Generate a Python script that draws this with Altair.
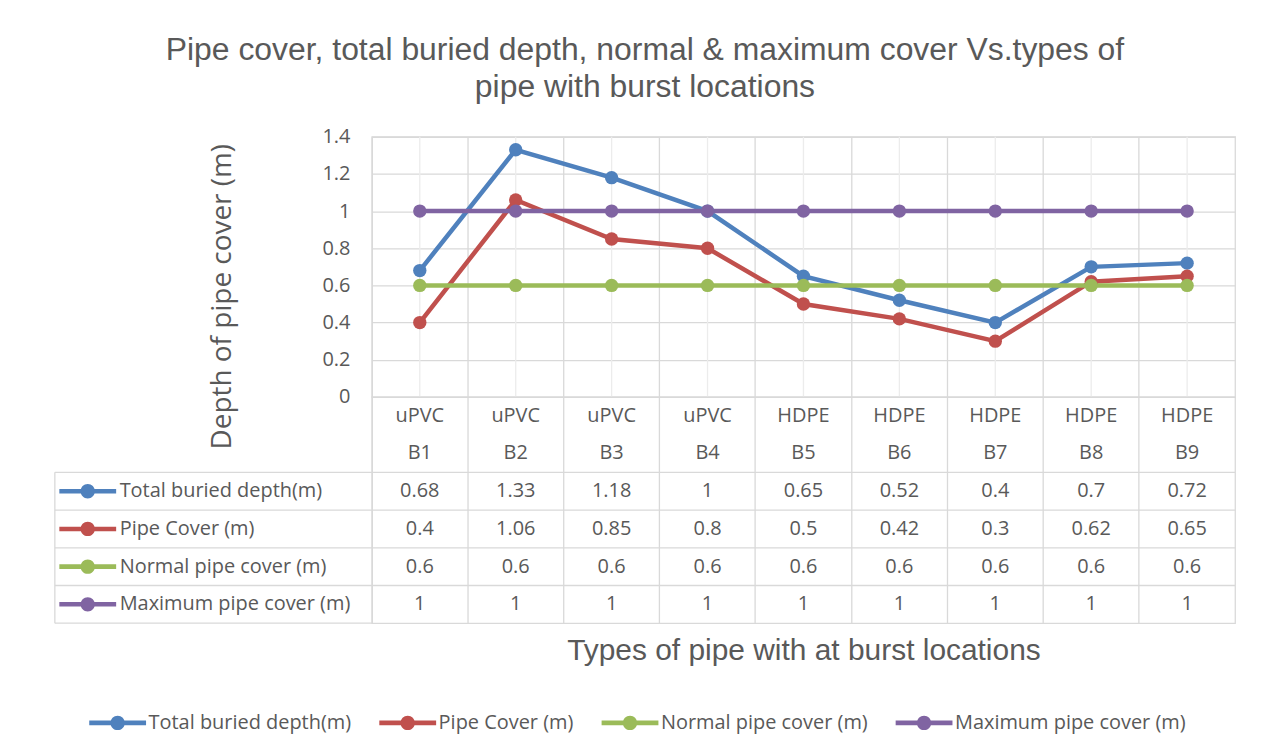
import altair as alt
import pandas as pd

# ---------------- data ----------------
categories = ["B1", "B2", "B3", "B4", "B5", "B6", "B7", "B8", "B9"]
pipe_types = ["uPVC", "uPVC", "uPVC", "uPVC", "HDPE", "HDPE", "HDPE", "HDPE", "HDPE"]
series_names = [
    "Total buried depth(m)",
    "Pipe Cover (m)",
    "Normal pipe cover (m)",
    "Maximum pipe cover (m)",
]
total_buried = [0.68, 1.33, 1.18, 1, 0.65, 0.52, 0.4, 0.7, 0.72]
pipe_cover = [0.4, 1.06, 0.85, 0.8, 0.5, 0.42, 0.3, 0.62, 0.65]
normal_cover = [0.6, 0.6, 0.6, 0.6, 0.6, 0.6, 0.6, 0.6, 0.6]
max_cover = [1, 1, 1, 1, 1, 1, 1, 1, 1]
y_ticks = [0, 0.2, 0.4, 0.6, 0.8, 1.0, 1.2, 1.4]
colors = ["#4F81BD", "#C0504D", "#9BBB59", "#8064A2"]

title_lines = [
    "Pipe cover, total buried depth, normal & maximum cover Vs.types of",
    "pipe with burst locations",
]
y_title = "Depth of pipe cover (m)"
x_title = "Types of pipe with at burst locations"

# ---------------- tables ----------------
rows = []
for name, vals in zip(series_names, [total_buried, pipe_cover, normal_cover, max_cover]):
    for c, t, v in zip(categories, pipe_types, vals):
        rows.append({"series": name, "loc": c, "type": t, "value": v, "row": name, "text": f"{v:g}"})
df = pd.DataFrame(rows)

hdr = []
for c, t in zip(categories, pipe_types):
    hdr.append({"loc": c, "row": "type", "text": t})
    hdr.append({"loc": c, "row": "locrow", "text": c})
table_df = pd.concat([pd.DataFrame(hdr), df[["loc", "row", "text"]]], ignore_index=True)
row_domain = ["type", "locrow"] + series_names
labels_df = pd.DataFrame({"row": series_names, "series": series_names})
first_df = pd.DataFrame({"row": [series_names[0]]})

# ---------------- style ----------------
W = 866
HA = 261
HB = 227
GRID = "#d9d9d9"
TXT = "#595959"
BODY = "Open Sans"
HEAD = "Liberation Sans"
SYM = ("M-1.5,-0.12L-0.34,-0.12L-0.34,0.12L-1.5,0.12Z "
       "M0.34,-0.12L1.5,-0.12L1.5,0.12L0.34,0.12Z "
       "M-0.38,0A0.38,0.38,0,1,1,0.38,0A0.38,0.38,0,1,1,-0.38,0Z")
SYM_SIZE = 1444

xscale = alt.Scale(type="band", domain=categories, paddingInner=0, paddingOuter=0)
cscale = alt.Scale(domain=series_names, range=colors)
LEG = alt.Legend(title=None, orient="none", legendX=-274, legendY=569,
                 direction="horizontal", symbolType=SYM, symbolSize=SYM_SIZE,
                 symbolStrokeWidth=0, symbolOpacity=1, labelFont=BODY, labelFontSize=20,
                 labelColor=TXT, labelLimit=0, columnPadding=27, labelOffset=12)

# ---------------- chart A: lines ----------------
xA_axis = alt.Axis(labels=False, ticks=False, domain=False, grid=True, bandPosition=0,
                   gridColor=GRID, gridWidth=1.3, title=None)
yA = alt.Y("value:Q", scale=alt.Scale(domain=[0, 1.4], nice=False),
           axis=alt.Axis(values=y_ticks, format="~g", title=y_title, titleFont=BODY,
                         titleFontSize=28, titleFontWeight="normal", titleColor=TXT,
                         titleX=-150, titleY=160, titleBaseline="middle",
                         labelFont=BODY, labelFontSize=20, labelColor=TXT, labelPadding=22,
                         ticks=False, domain=False, gridColor=GRID, gridWidth=1.3))

centers = alt.Chart(pd.DataFrame({"loc": categories})).mark_rule(color="#ececec", strokeWidth=1.3).encode(
    x=alt.X("loc:N", scale=xscale, bandPosition=0.5, axis=xA_axis)
)
lines = alt.Chart(df).mark_line(strokeWidth=4.5).encode(
    x=alt.X("loc:N", scale=xscale, bandPosition=0.5, axis=xA_axis),
    y=yA,
    color=alt.Color("series:N", scale=cscale, legend=LEG),
)
points = alt.Chart(df).mark_point(filled=True, size=180, opacity=1).encode(
    x=alt.X("loc:N", scale=xscale, bandPosition=0.5, axis=xA_axis),
    y=yA,
    color=alt.Color("series:N", scale=cscale, legend=LEG),
)
chartA = alt.layer(centers, lines, points).properties(width=W, height=HA)

# ---------------- chart B: data table ----------------
yscale = alt.Scale(type="band", domain=row_domain, paddingInner=0, paddingOuter=0)
xB_axis = alt.Axis(labels=False, ticks=False, domain=False, grid=True, bandPosition=0,
                   gridColor=GRID, gridWidth=1.3, title=x_title, titleFont=HEAD,
                   titleFontSize=30, titleFontWeight="normal", titleColor=TXT, titlePadding=12)

cells = alt.Chart(table_df).mark_text(font=BODY, fontSize=20, color=TXT).encode(
    x=alt.X("loc:N", scale=xscale, bandPosition=0.5, axis=xB_axis),
    y=alt.Y("row:N", scale=yscale, bandPosition=0.5, axis=None),
    text="text:N",
)
hlines = alt.Chart(labels_df).mark_rule(color=GRID, strokeWidth=1.3).encode(
    x=alt.value(-318), x2=alt.value(W),
    y=alt.Y("row:N", scale=yscale, bandPosition=0, axis=None),
)
bottom = alt.Chart(first_df).mark_rule(color=GRID, strokeWidth=1.3).encode(
    x=alt.value(-318), x2=alt.value(0), y=alt.value(HB),
)
leftb = alt.Chart(first_df).mark_rule(color=GRID, strokeWidth=1.3).encode(
    x=alt.value(-318),
    y=alt.Y("row:N", scale=yscale, bandPosition=0, axis=None), y2=alt.value(HB),
)
syms = alt.Chart(labels_df).mark_point(filled=True, shape=SYM, size=SYM_SIZE, opacity=1).encode(
    x=alt.value(-285),
    y=alt.Y("row:N", scale=yscale, bandPosition=0.5, axis=None),
    color=alt.Color("series:N", scale=cscale, legend=LEG),
)
labs = alt.Chart(labels_df).mark_text(font=BODY, fontSize=20, color=TXT, align="left").encode(
    x=alt.value(-253),
    y=alt.Y("row:N", scale=yscale, bandPosition=0.5, axis=None),
    text="row:N",
)
chartB = alt.layer(hlines, bottom, leftb, cells, syms, labs).properties(width=W, height=HB)

chart = alt.vconcat(chartA, chartB, spacing=0, bounds="flush").properties(
    title=alt.Title(title_lines, fontSize=32, font=HEAD, color=TXT, fontWeight="normal",
                    anchor="middle", offset=22, lineHeight=37),
    padding={"left": 45, "top": 25, "right": 20, "bottom": 10},
).configure_view(stroke=GRID, strokeWidth=1.3)

chart.save("out.html", embed_options={"renderer": "svg", "actions": False})
